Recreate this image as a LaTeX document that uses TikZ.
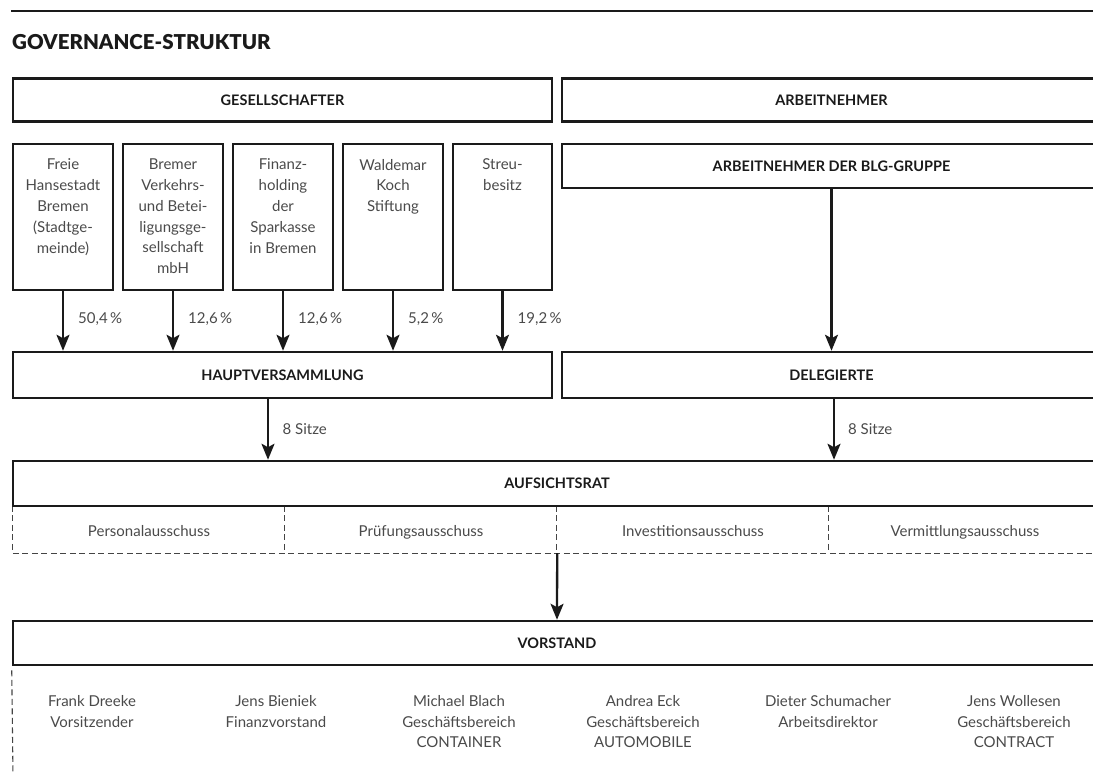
\documentclass[tikz,border=0pt]{standalone}
\usepackage{fontspec}
\setmainfont{Lato}
\newfontfamily\blackfont{Lato Black}
\usetikzlibrary{arrows.meta,calc}
\definecolor{ink}{HTML}{1A1A1A}
\definecolor{txt}{HTML}{4A4A4A}
\definecolor{dashc}{HTML}{444444}
\begin{document}
\begin{tikzpicture}[x=1pt,y=-1pt,
  hbox/.style={draw=ink,line width=2.5pt,rectangle,inner sep=0pt,text=ink,font=\bfseries\fontsize{14.5}{17}\selectfont},
  sbox/.style={draw=ink,line width=2.5pt,minimum width=100pt,minimum height=146pt,inner sep=0pt},
  stxt/.style={align=center,text=txt,font=\fontsize{15}{20.8}\selectfont,inner sep=0pt,anchor=north},
  lbl/.style={text=txt,font=\fontsize{15}{18}\selectfont,inner sep=0pt,anchor=west},
  cmte/.style={text=txt,font=\fontsize{15}{18}\selectfont,inner sep=0pt,minimum width=272pt,minimum height=47pt,text height=15pt,text depth=2pt},
  arr/.style={draw=ink,line width=2.3pt,-{Stealth[length=16pt,width=13pt,inset=3.5pt]}},
  dsh/.style={draw=dashc,line width=1.1pt,dash pattern=on 6pt off 3.5pt}]
\useasboundingbox (0,0) rectangle (1093,772);
% top rule and title
\coordinate (r1) at (11,11);
\coordinate (r2) at (1101,11);
\draw[ink,line width=2.8pt] (r1) -- (r2);
\node[anchor=west,inner sep=0pt,text=ink,font=\blackfont\fontsize{20.5}{24}\selectfont] (title) at (12,42) {GOVERNANCE-STRUKTUR};
% header row
\node[hbox,minimum width=539pt,minimum height=43pt] (ges) at (282.5,100) {GESELLSCHAFTER};
\node[hbox,minimum width=539pt,minimum height=43pt] (arb) at (831.5,100) {ARBEITNEHMER};
% shareholder boxes
\node[sbox] (s1) at (63,217) {};
\node[sbox] (s2) at (173,217) {};
\node[sbox] (s3) at (283,217) {};
\node[sbox] (s4) at (393,217) {};
\node[sbox,minimum width=99pt] (s5) at (502.5,217) {};
\node[stxt] (t1) at ([yshift=-16pt]s1.north) {Freie\\Hansestadt\\Bremen\\(Stadtge-\\meinde)};
\node[stxt] (t2) at ([yshift=-16pt]s2.north) {Bremer\\Verkehrs-\\und Betei-\\ligungsge-\\sellschaft\\mbH};
\node[stxt] (t3) at ([yshift=-16pt]s3.north) {Finanz-\\holding\\der\\Sparkasse\\in Bremen};
\node[stxt] (t4) at ([yshift=-16pt]s4.north) {Waldemar\\Koch\\Stiftung};
\node[stxt] (t5) at ([yshift=-16pt]s5.north) {Streu-\\besitz};
\node[hbox,minimum width=539pt,minimum height=44pt] (blg) at (831.5,166) {ARBEITNEHMER DER BLG-GRUPPE};
% second row
\node[hbox,minimum width=539pt,minimum height=46pt] (hv) at (282.5,375) {HAUPTVERSAMMLUNG};
\node[hbox,minimum width=539pt,minimum height=46pt] (del) at (831.5,375) {DELEGIERTE};
\foreach \i in {1,...,5}{\draw[arr] (s\i.south) -- (s\i.south |- hv.north);}
\draw[arr] (blg.south) -- (blg.south |- del.north);
\node[lbl] (p1) at ([xshift=15pt,yshift=-28pt]s1.south) {50,4\,\%};
\node[lbl] (p2) at ([xshift=15pt,yshift=-28pt]s2.south) {12,6\,\%};
\node[lbl] (p3) at ([xshift=15pt,yshift=-28pt]s3.south) {12,6\,\%};
\node[lbl] (p4) at ([xshift=15pt,yshift=-28pt]s4.south) {5,2\,\%};
\node[lbl] (p5) at ([xshift=15pt,yshift=-28pt]s5.south) {19,2\,\%};
% Aufsichtsrat
\node[cmte] (c1) at (149,529.5) {Personalausschuss};
\node[cmte] (c2) at (421,529.5) {Prüfungsausschuss};
\node[cmte] (c3) at (693,529.5) {Investitionsausschuss};
\node[cmte] (c4) at (965,529.5) {Vermittlungsausschuss};
\draw[dsh] (c1.north west) -- (c1.south west) -- (c4.south east);
\draw[dsh] (c2.north west) -- (c2.south west);
\draw[dsh] (c3.north west) -- (c3.south west);
\draw[dsh] (c4.north west) -- (c4.south west);
\node[hbox,minimum width=1088pt,minimum height=45pt] (ar) at (557,483.5) {AUFSICHTSRAT};
\draw[arr] ([xshift=-14.5pt]hv.south) -- ([xshift=-14.5pt]hv.south |- ar.north);
\draw[arr] ([xshift=2.5pt]del.south) -- ([xshift=2.5pt]del.south |- ar.north);
\node[lbl] (h1) at ([xshift=0pt,yshift=-30pt]hv.south) {8 Sitze};
\node[lbl] (h2) at ([xshift=16.5pt,yshift=-30pt]del.south) {8 Sitze};
% Vorstand
\node[hbox,minimum width=1088pt,minimum height=44pt] (vor) at (557,643) {VORSTAND};
\draw[arr] (c2.south east) -- (vor.north);
\coordinate (vend) at (13,776);
\draw[dsh] ([yshift=-4pt]vor.south west) -- (vend);
\node[stxt] (n1) at (92,695) {Frank Dreeke\\Vorsitzender};
\node[stxt] (n2) at (276,695) {Jens Bieniek\\Finanzvorstand};
\node[stxt] (n3) at (459,695) {Michael Blach\\Geschäftsbereich\\CONTAINER};
\node[stxt] (n4) at (643,695) {Andrea Eck\\Geschäftsbereich\\AUTOMOBILE};
\node[stxt] (n5) at (828,695) {Dieter Schumacher\\Arbeitsdirektor};
\node[stxt] (n6) at (1014,695) {Jens Wollesen\\Geschäftsbereich\\CONTRACT};
\end{tikzpicture}
\end{document}
